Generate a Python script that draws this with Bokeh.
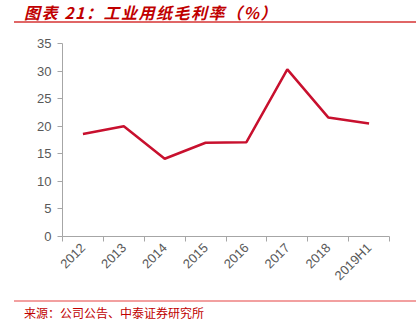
import math
from bokeh.plotting import figure
from bokeh.layouts import column
from bokeh.models import (Range1d, LinearAxis, FixedTicker, ColumnDataSource, Div)
from bokeh.embed import file_html
from bokeh.resources import INLINE

categories = ["2012", "2013", "2014", "2015", "2016", "2017", "2018", "2019H1"]
margin = [18.6, 20.0, 14.1, 17.0, 17.1, 30.3, 21.6, 20.5]
y_ticks = [0, 5, 10, 15, 20, 25, 30, 35]
title_text = "图表 21：工业用纸毛利率（%）"
source_text = "来源：公司公告、中泰证券研究所"

W, H = 419, 324
TOP_H, BOT_H = 24, 24
PH = H - TOP_H - BOT_H
FL, FR = 62, 389
FT, FB = 43 - TOP_H, 236 - TOP_H
YMAX = 35

n = len(categories)
centers = [i + 0.5 for i in range(n)]

p = figure(width=W, height=PH, output_backend="svg", toolbar_location=None,
           x_range=Range1d(0, n), y_range=Range1d(0, YMAX),
           x_axis_type=None, y_axis_type=None,
           min_border_left=FL, min_border_right=W - FR,
           min_border_top=FT, min_border_bottom=PH - FB)
p.outline_line_color = None
p.xgrid.visible = False
p.ygrid.visible = False
p.background_fill_color = "white"
p.border_fill_color = "white"

axis_color = "#A6A6A6"
label_color = "#595959"
font = "Liberation Sans"

yaxis = LinearAxis(ticker=FixedTicker(ticks=y_ticks))
yaxis.axis_line_color = axis_color
yaxis.major_tick_line_color = axis_color
yaxis.major_tick_out = 5
yaxis.major_tick_in = 0
yaxis.minor_tick_line_color = None
yaxis.major_label_text_color = label_color
yaxis.major_label_text_font = font
yaxis.major_label_text_font_size = "13px"
yaxis.major_label_standoff = 6
p.add_layout(yaxis, "left")

xaxis = LinearAxis(ticker=FixedTicker(ticks=centers, minor_ticks=list(range(n + 1))),
                   major_label_overrides={c: lab for c, lab in zip(centers, categories)})
xaxis.axis_line_color = axis_color
xaxis.major_tick_line_color = None
xaxis.minor_tick_line_color = axis_color
xaxis.minor_tick_out = 5
xaxis.minor_tick_in = 0
xaxis.major_tick_out = 5
xaxis.major_tick_in = 0
xaxis.major_label_orientation = math.pi / 4
xaxis.major_label_text_color = label_color
xaxis.major_label_text_font = font
xaxis.major_label_text_font_size = "13px"
xaxis.major_label_standoff = 4
p.add_layout(xaxis, "below")

src = ColumnDataSource(dict(x=centers, y=margin))
p.line("x", "y", source=src, line_color="#C8102E", line_width=2.5)

red = "#C00000"
title_html = (
    f'<div style="position:relative;width:{W}px;height:{TOP_H}px;overflow:hidden;">'
    f'<div style="position:absolute;left:24px;top:2px;font-family:\'Noto Sans CJK SC\';'
    f'font-size:16px;font-weight:bold;font-style:italic;color:{red};line-height:20px;'
    f'letter-spacing:1.5px;white-space:nowrap;">{title_text}</div>'
    f'<div style="position:absolute;left:14px;top:21px;width:402px;height:2px;'
    f'background:#E06666;"></div></div>'
)
source_html = (
    f'<div style="position:relative;width:{W}px;height:{BOT_H}px;overflow:hidden;">'
    f'<div style="position:absolute;left:14px;top:0px;width:402px;height:1.5px;'
    f'background:#F2A0A0;"></div>'
    f'<div style="position:absolute;left:24px;top:5px;font-family:\'Noto Sans CJK SC\';'
    f'font-size:12px;color:{red};line-height:16px;white-space:nowrap;">{source_text}</div>'
    f'</div>'
)
top_div = Div(text=title_html, width=W, height=TOP_H, margin=0)
bot_div = Div(text=source_html, width=W, height=BOT_H, margin=0)

layout = column(top_div, p, bot_div, spacing=0, margin=0)
open("out.html", "w").write(file_html(layout, INLINE))
